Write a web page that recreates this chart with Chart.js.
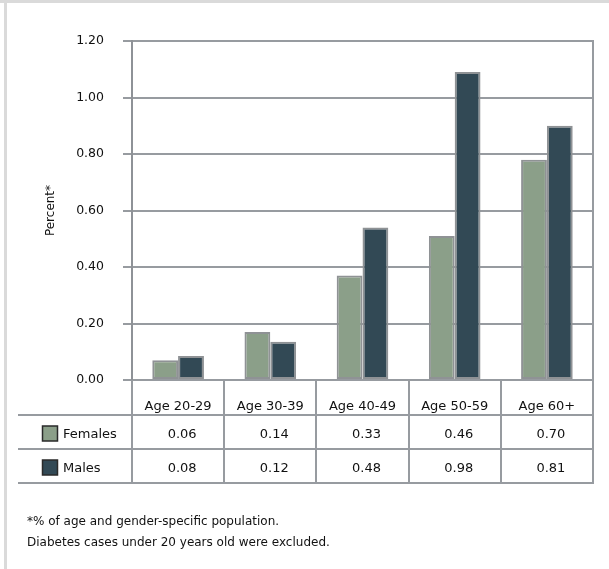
<!DOCTYPE html>
<html>
<head>
<meta charset="utf-8">
<script src="https://cdn.jsdelivr.net/npm/chart.js@4.4.1/dist/chart.umd.min.js"></script>
<style>
  html, body { margin: 0; padding: 0; background: #fff; }
  #wrap { position: relative; width: 609px; height: 569px; overflow: hidden; }
  #frameTop { position: absolute; left: 0; top: 0; width: 609px; height: 3px; background: #dadada; }
  #frameLeft { position: absolute; left: 4px; top: 0; width: 3px; height: 569px; background: #dadada; }
  #chart { position: absolute; left: 0; top: 0; }
  .note { position: absolute; left: 27px; font: 12px "DejaVu Sans", sans-serif; color: #111; line-height: 21px; white-space: nowrap; }
</style>
</head>
<body>
<div id="wrap">
  <canvas id="chart" width="609" height="569"></canvas>
  <div id="frameTop"></div>
  <div id="frameLeft"></div>
  <div class="note" style="top:511px">*% of age and gender-specific population.</div>
  <div class="note" style="top:532px">Diabetes cases under 20 years old were excluded.</div>
</div>
<script>
const categories = ['Age 20-29', 'Age 30-39', 'Age 40-49', 'Age 50-59', 'Age 60+'];

// bar heights as drawn in the picture
const femaleBars = [0.07, 0.17, 0.37, 0.51, 0.78];
const maleBars = [0.085, 0.135, 0.54, 1.09, 0.90];

// values printed in the data table
const femaleTable = ['0.06', '0.14', '0.33', '0.46', '0.70'];
const maleTable = ['0.08', '0.12', '0.48', '0.98', '0.81'];

const femaleColor = '#8b9f89';
const maleColor = '#324955';
const lineColor = '#979ba0';
const textColor = '#111';

const tableRows = [
    { label: 'Females', color: femaleColor, values: femaleTable },
    { label: 'Males', color: maleColor, values: maleTable },
];

const dataTablePlugin = {
    id: 'dataTable',
    afterDraw(chart) {
        const ctx = chart.ctx;
        const area = chart.chartArea;
        const xs = chart.scales.x;
        const headerBottom = area.bottom + 35;
        const rowH = 34;
        const tableBottom = headerBottom + rowH * tableRows.length;
        const tableLeft = 18;

        ctx.save();
        ctx.strokeStyle = lineColor;
        ctx.lineWidth = 2;

        // right frame of plot + table
        ctx.beginPath();
        ctx.moveTo(area.right, area.top - 1);
        ctx.lineTo(area.right, tableBottom);
        ctx.stroke();

        // column separators
        const bounds = [area.left];
        for (let i = 1; i < categories.length; i++) {
            bounds.push((xs.getPixelForValue(i - 1) + xs.getPixelForValue(i)) / 2);
        }
        bounds.forEach(x => {
            ctx.beginPath();
            ctx.moveTo(Math.round(x), area.bottom);
            ctx.lineTo(Math.round(x), tableBottom);
            ctx.stroke();
        });

        // row lines
        for (let r = 0; r <= tableRows.length; r++) {
            const y = headerBottom + r * rowH;
            ctx.beginPath();
            ctx.moveTo(tableLeft, y);
            ctx.lineTo(area.right + 1, y);
            ctx.stroke();
        }

        // rows
        ctx.font = '13px "DejaVu Sans", sans-serif';
        ctx.textBaseline = 'middle';
        tableRows.forEach((row, r) => {
            const yMid = headerBottom + r * rowH + rowH / 2 + 3;
            // legend swatch
            ctx.fillStyle = row.color;
            ctx.fillRect(42.5, yMid - 9, 15, 15);
            ctx.strokeStyle = '#2a2a2a';
            ctx.lineWidth = 1.5;
            ctx.strokeRect(42.5, yMid - 9, 15, 15);
            ctx.fillStyle = textColor;
            ctx.textAlign = 'left';
            ctx.fillText(row.label, 63, yMid);
            ctx.textAlign = 'center';
            row.values.forEach((v, i) => {
                ctx.fillText(v, xs.getPixelForValue(i) + 4, yMid);
            });
        });
        ctx.restore();
    }
};

const config = {
    type: 'bar',
    data: {
        labels: categories,
        datasets: [
            {
                label: 'Females',
                data: femaleBars,
                backgroundColor: femaleColor,
                borderColor: '#8f9295',
                borderWidth: 2,
                borderSkipped: false,
            },
            {
                label: 'Males',
                data: maleBars,
                backgroundColor: maleColor,
                borderColor: '#8f9295',
                borderWidth: 2,
                borderSkipped: false,
            },
        ]
    },
    options: {
        responsive: false,
        animation: false,
        devicePixelRatio: 1,
        layout: {
            padding: { left: 0, top: 41, right: 16, bottom: 154 }
        },
        datasets: {
            bar: { categoryPercentage: 0.56, barPercentage: 1.0 }
        },
        plugins: {
            legend: { display: false },
            tooltip: { enabled: false },
        },
        scales: {
            x: {
                grid: { display: false },
                border: { display: true, color: lineColor, width: 2 },
                ticks: {
                    color: textColor,
                    padding: 11,
                    font: { family: 'DejaVu Sans', size: 13 },
                },
                afterFit(scale) { scale.height = 35; },
            },
            y: {
                min: 0,
                max: 1.2,
                ticks: {
                    stepSize: 0.2,
                    color: textColor,
                    padding: 19,
                    font: { family: 'DejaVu Sans', size: 12.5 },
                    callback: v => v.toFixed(2),
                },
                grid: { color: lineColor, lineWidth: 2, tickLength: 9 },
                border: { display: true, color: '#8e9297', width: 2 },
                title: {
                    display: true,
                    text: 'Percent*',
                    color: textColor,
                    font: { family: 'DejaVu Sans', size: 12 },
                    padding: { top: 44, bottom: 0 },
                },
                afterFit(scale) { scale.width = 132; },
            },
        },
    },
    plugins: [dataTablePlugin],
};

const chart = new Chart(document.getElementById('chart'), config);
</script>
</body>
</html>
